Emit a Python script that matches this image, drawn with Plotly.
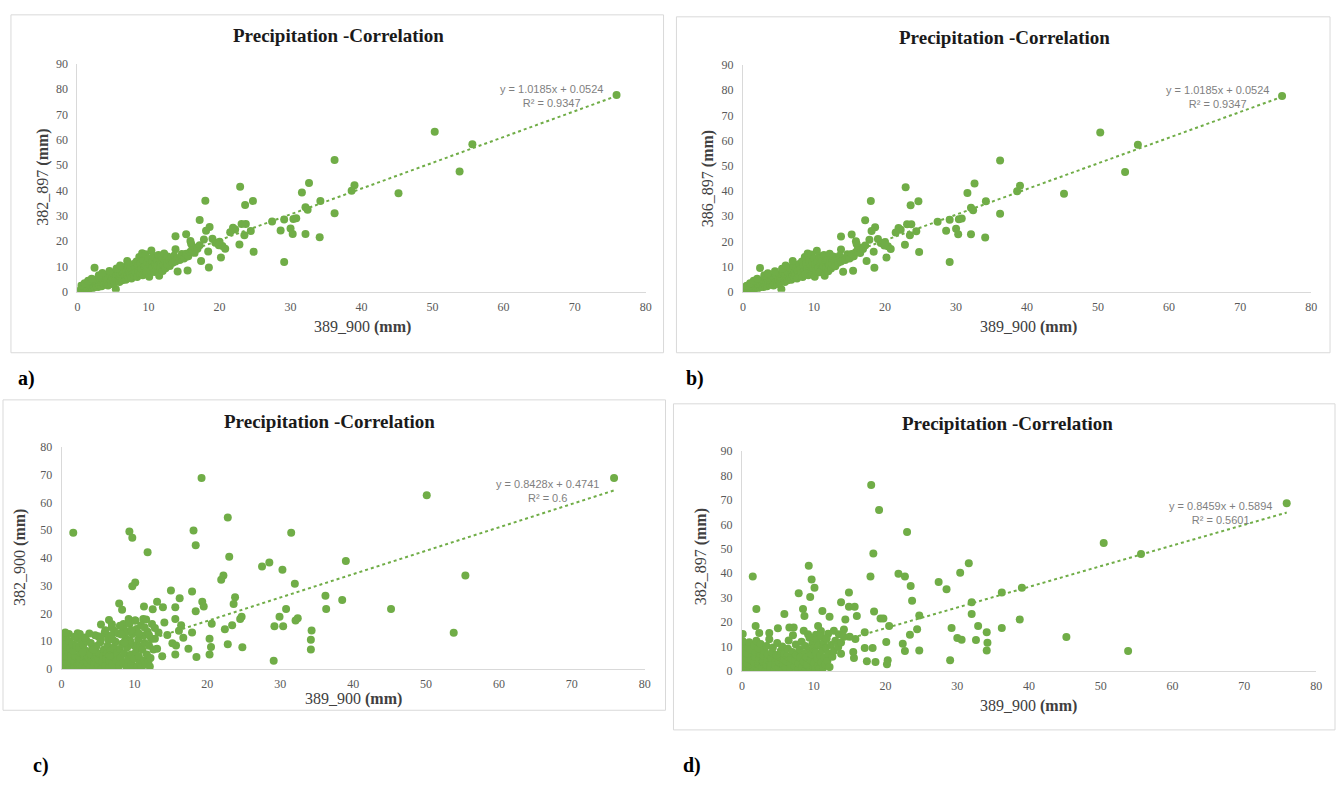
import plotly.graph_objects as go

W, H = 1342, 787

# ---------------- DATA ----------------
# panels a) and b) share the same scatter (389_900 vs 382_897 / 386_897)
ab_points = [
    (75.9, 77.7), (50.3, 63.2), (55.6, 58.3), (53.8, 47.5), (45.2, 38.9), (36.2, 52.1), (36.2, 31.0),
    (39.0, 42.1), (38.6, 39.9), (34.2, 35.9), (34.1, 21.6), (32.6, 43.0), (31.6, 39.2), (32.1, 33.4),
    (32.4, 32.4), (32.1, 22.8), (30.8, 29.1), (30.4, 28.8), (30.0, 25.0), (30.3, 22.8), (29.1, 28.6),
    (28.6, 24.2), (27.4, 27.8), (29.1, 11.8), (24.7, 35.9), (23.6, 34.3), (22.9, 41.5), (23.7, 26.8),
    (23.5, 22.4), (22.8, 18.7), (22.2, 24.6), (24.4, 24.0), (24.8, 15.8), (23.1, 26.8), (21.9, 25.3),
    (20.4, 18.1), (20.2, 13.6), (19.4, 19.4), (19.9, 18.4), (18.0, 36.0), (18.6, 25.6), (18.1, 24.1),
    (17.2, 28.4), (17.8, 20.7), (18.5, 9.6), (17.4, 12.2), (18.4, 15.9), (15.3, 22.7), (13.8, 22.0),
    (15.5, 8.4), (14.1, 8.0), (15.9, 20.1), (16.2, 17.5), (16.8, 17.5), (17.2, 18.4), (14.7, 14.9),
    (13.8, 16.8), (15.4, 14.0), (2.4, 9.5), (5.4, 1.0), (20.8, 17.0), (21.5, 23.5), (19.0, 21.0),
    (16.0, 19.0), (20.0, 19.8),
    (0.1, 0.2), (0.2, 0.1), (0.3, 0.5), (0.4, 0.2), (0.5, 0.8), (0.6, 0.3), (0.7, 1.2), (0.8, 0.5),
    (0.9, 1.6), (1.0, 0.7), (1.1, 1.9), (1.2, 0.9), (1.3, 2.4), (1.4, 1.1), (1.5, 2.8), (1.6, 1.3),
    (1.7, 3.2), (1.8, 1.5), (1.9, 2.2), (2.0, 3.6), (2.1, 1.4), (2.2, 2.8), (2.3, 4.1), (2.4, 1.8),
    (2.5, 3.0), (2.6, 4.5), (2.7, 2.2), (2.8, 3.4), (2.9, 1.9), (3.0, 4.2), (3.1, 2.6), (3.2, 5.0),
    (3.3, 3.1), (3.4, 2.2), (3.5, 4.6), (3.6, 3.3), (3.7, 5.6), (3.8, 2.8), (3.9, 4.0), (4.0, 6.2),
    (4.1, 3.0), (4.2, 4.8), (4.3, 2.5), (4.4, 5.5), (4.5, 3.8), (4.6, 6.8), (4.7, 4.2), (4.8, 3.1),
    (4.9, 5.9), (5.0, 4.6), (5.1, 7.0), (5.2, 3.6), (5.3, 5.2), (5.5, 6.4), (5.6, 4.4), (5.7, 7.6),
    (5.8, 5.0), (5.9, 3.9), (6.0, 6.8), (6.1, 5.4), (6.2, 8.4), (6.3, 4.6), (6.4, 7.2), (6.5, 5.9),
    (6.6, 9.8), (6.7, 6.3), (6.8, 4.8), (6.9, 8.0), (7.0, 6.6), (7.1, 10.2), (7.2, 5.7), (7.3, 7.9),
    (7.4, 6.9), (7.5, 9.4), (7.6, 5.3), (7.7, 8.4), (7.8, 7.1), (7.9, 11.0), (8.0, 6.4), (8.1, 9.0),
    (8.2, 7.6), (8.3, 12.0), (8.4, 5.9), (8.5, 10.3), (8.6, 8.2), (8.7, 13.8), (8.8, 7.0), (8.9, 11.2),
    (9.0, 9.1), (9.1, 15.2), (9.2, 6.6), (9.3, 12.4), (9.4, 8.6), (9.5, 10.0), (9.6, 14.8), (9.7, 7.4),
    (9.8, 11.6), (9.9, 9.4), (10.0, 13.2), (10.1, 6.0), (10.2, 10.8), (10.3, 8.2), (10.4, 16.3),
    (10.5, 12.0), (10.6, 9.6), (10.7, 14.2), (10.8, 7.8), (10.9, 11.1), (11.0, 13.3), (11.1, 8.8),
    (11.2, 12.5), (11.3, 10.2), (11.4, 14.6), (11.5, 6.4), (11.6, 11.7), (11.7, 9.5), (11.8, 13.9),
    (11.9, 12.6), (12.0, 8.2), (12.1, 10.6), (12.2, 15.1), (12.3, 12.2), (12.4, 9.3), (12.5, 13.5),
    (12.6, 11.0), (12.7, 14.0), (12.9, 12.4), (13.0, 10.2), (13.2, 13.4), (13.4, 11.5), (13.6, 14.3),
    (13.8, 12.0), (14.1, 13.1), (14.4, 12.6), (14.7, 14.0), (15.0, 13.2), (15.3, 15.0), (15.6, 14.1),
    (15.9, 15.8), (16.2, 16.4), (16.5, 15.4), (16.9, 17.0), (0.5, 2.4), (1.0, 3.4), (1.5, 4.4),
    (2.0, 5.2), (3.0, 6.6), (3.5, 7.4), (4.5, 8.2), (5.5, 9.2), (6.0, 10.4), (7.0, 12.2),
]

c_points = [
    (75.8, 68.8), (19.2, 68.8), (50.1, 62.6), (1.6, 49.1), (9.3, 49.6), (9.7, 47.3), (18.1, 49.9),
    (18.4, 44.6), (22.8, 54.6), (31.5, 49.1), (11.8, 42.1), (23.0, 40.5), (39.0, 38.9), (28.5, 38.4),
    (27.5, 36.9), (30.3, 35.8), (55.4, 33.7), (22.2, 33.7), (21.9, 32.2), (32.0, 30.7), (10.1, 31.2),
    (9.7, 29.8), (15.0, 28.3), (17.9, 27.9), (23.8, 25.9), (36.2, 26.4), (38.5, 24.9), (23.6, 23.4),
    (36.3, 21.6), (45.2, 21.6), (30.8, 21.6), (19.3, 24.2), (19.5, 22.5), (18.4, 20.8), (16.2, 25.5),
    (15.6, 22.3), (13.1, 24.2), (11.3, 22.5), (12.5, 21.5), (13.9, 22.3), (7.9, 23.6), (8.3, 21.4),
    (29.9, 18.8), (24.7, 18.8), (24.5, 18.0), (32.4, 18.3), (32.1, 17.5), (20.6, 16.3), (23.4, 15.8),
    (22.4, 14.3), (29.2, 15.4), (30.4, 15.4), (34.3, 13.9), (53.8, 13.1), (20.3, 10.9), (20.5, 7.9),
    (20.3, 5.2), (22.8, 8.9), (24.8, 7.8), (34.2, 10.5), (34.2, 7.0), (29.1, 3.0), (18.5, 4.3),
    (17.4, 7.3), (15.6, 5.2), (15.7, 8.5), (15.2, 9.3), (13.8, 4.6), (13.1, 7.3), (13.3, 13.2),
    (14.1, 16.8), (15.6, 18.0), (16.4, 15.8), (16.1, 13.8), (17.9, 13.2), (16.7, 11.3), (14.5, 12.3),
    (12.8, 10.9), (11.2, 18.0), (10.1, 17.5), (9.2, 18.0), (8.5, 16.2), (6.9, 16.1), (5.4, 16.0),
    (6.5, 17.7), (7.2, 13.8), (6.1, 12.6), (2.2, 12.9), (0.1, 11.8), (0.7, 8.5),
    (0.1, 0.3), (0.2, 1.5), (0.3, 3.2), (0.1, 5.0), (0.2, 7.1), (0.4, 9.2), (0.3, 11.5), (0.6, 0.8),
    (0.7, 2.4), (0.8, 4.3), (0.9, 6.2), (0.7, 8.0), (1.0, 10.1), (1.1, 0.2), (1.2, 1.8), (1.3, 3.6),
    (1.4, 5.5), (1.2, 7.4), (1.5, 9.0), (1.7, 0.9), (1.8, 2.7), (1.9, 4.6), (1.6, 6.6), (2.0, 8.3),
    (2.2, 11.0), (2.3, 0.4), (2.4, 2.0), (2.5, 3.9), (2.6, 5.9), (2.4, 7.7), (2.7, 9.8), (2.5, 12.6),
    (2.9, 1.2), (3.0, 3.0), (3.1, 4.9), (3.2, 6.8), (3.0, 8.8), (3.3, 0.3), (3.5, 2.3), (3.6, 4.2),
    (3.7, 6.0), (3.4, 10.3), (3.9, 1.0), (4.0, 3.1), (4.1, 5.2), (4.2, 7.5), (4.0, 9.4), (4.4, 0.5),
    (4.5, 2.2), (4.6, 4.0), (4.7, 6.1), (4.8, 8.3), (5.0, 1.4), (5.1, 3.4), (5.2, 5.6), (5.0, 11.8),
    (5.3, 9.6), (5.5, 0.3), (5.6, 2.5), (5.7, 4.6), (5.8, 7.0), (5.9, 13.0), (6.0, 1.2), (6.1, 3.8),
    (6.2, 5.5), (6.3, 8.4), (6.4, 10.6), (6.5, 0.6), (6.6, 2.9), (6.7, 6.6), (6.8, 12.0), (6.9, 15.0),
    (7.0, 1.8), (7.1, 4.4), (7.2, 7.8), (7.3, 0.4), (7.4, 9.8), (7.5, 3.0), (7.6, 5.8), (7.8, 12.8),
    (7.9, 1.2), (8.0, 7.2), (8.1, 4.1), (8.3, 9.1), (8.4, 2.2), (8.5, 14.3), (8.6, 5.6), (8.8, 11.0),
    (8.9, 0.8), (9.0, 7.8), (9.1, 3.4), (9.3, 16.2), (9.4, 10.2), (9.5, 5.2), (9.6, 1.6), (9.7, 12.6),
    (9.8, 0.4), (9.9, 8.6), (10.0, 3.8), (10.1, 17.5), (10.2, 6.2), (10.3, 14.4), (10.4, 1.0),
    (10.5, 10.6), (10.6, 4.6), (10.7, 2.2), (10.8, 8.0), (10.9, 15.8), (11.0, 0.8), (11.1, 6.9),
    (11.2, 12.0), (11.3, 3.0), (11.4, 9.4), (11.5, 1.6), (11.6, 17.8), (11.7, 5.2), (11.8, 13.4),
    (11.9, 2.6), (12.0, 8.4), (12.1, 0.9), (12.2, 4.0), (12.3, 10.8), (12.4, 16.2), (12.6, 7.0),
    (12.8, 14.8), (1.0, 12.6), (3.2, 11.4), (4.6, 12.2), (6.0, 14.0), (8.0, 15.6), (9.0, 13.4),
    (0.5, 13.2), (1.8, 11.6), (3.8, 12.8), (5.4, 10.8), (7.0, 10.6), (8.2, 12.4), (9.6, 14.0),
    (10.6, 12.8), (11.4, 15.0), (12.0, 12.2), (2.9, 6.0), (4.4, 7.0), (6.6, 4.8), (8.6, 9.6),
]

d_points = [
    (75.9, 68.6), (18.0, 76.1), (19.1, 65.9), (23.0, 56.9), (50.4, 52.4), (55.6, 47.9), (18.3, 48.1),
    (9.3, 43.0), (31.6, 44.1), (30.4, 40.2), (1.5, 38.6), (21.8, 39.8), (22.7, 38.6), (17.9, 38.6),
    (9.7, 37.4), (27.4, 36.4), (10.1, 34.0), (23.5, 34.8), (28.5, 33.4), (39.0, 34.0), (36.2, 32.1),
    (14.9, 32.1), (7.9, 31.8), (9.5, 30.3), (23.7, 28.7), (32.0, 28.1), (13.8, 28.1), (2.0, 25.4),
    (14.9, 26.3), (15.7, 26.3), (8.5, 25.4), (18.4, 24.3), (5.9, 23.3), (24.7, 22.7), (32.0, 23.3),
    (19.3, 21.5), (19.7, 21.5), (11.2, 24.5), (12.2, 22.2), (8.7, 22.5), (38.7, 21.1), (16.0, 22.5),
    (14.4, 21.1), (10.6, 18.4), (20.5, 18.4), (32.9, 18.4), (29.2, 17.6), (24.4, 17.1), (36.2, 17.6),
    (34.1, 15.8), (23.4, 14.8), (17.1, 15.8), (15.8, 13.1), (45.2, 13.9), (30.0, 13.5), (30.6, 12.8),
    (32.6, 12.7), (34.2, 11.5), (20.1, 11.9), (22.4, 11.1), (17.1, 9.4), (18.2, 9.4), (24.7, 8.4),
    (22.7, 8.2), (34.1, 8.4), (53.8, 8.2), (29.0, 4.4), (17.4, 4.0), (18.6, 3.7), (20.3, 4.4),
    (20.2, 2.7), (15.6, 5.3), (15.5, 7.8), (13.8, 7.0),
    (0.1, 15.1), (1.9, 18.4), (2.4, 15.5), (3.8, 15.5), (5.0, 17.5), (6.6, 17.8), (7.2, 17.8),
    (8.6, 16.5), (9.2, 15.0), (10.3, 14.8), (11.0, 16.4), (12.0, 15.2), (12.8, 16.5), (13.5, 15.0),
    (14.2, 17.0), (15.0, 14.0),
    (0.1, 0.4), (0.2, 2.1), (0.1, 4.0), (0.3, 6.2), (0.2, 8.3), (0.4, 10.5), (0.1, 12.2), (0.6, 1.0),
    (0.7, 3.1), (0.8, 5.2), (0.6, 7.3), (0.9, 9.4), (1.0, 11.8), (1.1, 0.3), (1.2, 2.5), (1.3, 4.4),
    (1.4, 6.6), (1.2, 8.8), (1.6, 1.4), (1.7, 3.6), (1.8, 5.8), (1.9, 7.8), (1.7, 10.4), (2.0, 12.4),
    (2.2, 0.6), (2.3, 2.8), (2.4, 4.9), (2.5, 7.0), (2.3, 9.2), (2.6, 11.0), (2.8, 1.6), (2.9, 3.9),
    (3.0, 6.1), (3.1, 8.4), (3.3, 0.4), (3.4, 2.5), (3.5, 4.6), (3.6, 6.8), (3.4, 10.2), (3.8, 13.0),
    (3.9, 1.2), (4.0, 3.3), (4.1, 5.4), (4.2, 7.6), (4.3, 9.6), (4.5, 0.5), (4.6, 2.4), (4.7, 4.5),
    (4.8, 6.5), (4.9, 11.4), (5.1, 1.5), (5.2, 3.6), (5.3, 5.7), (5.4, 8.2), (5.6, 0.3), (5.7, 2.7),
    (5.8, 4.8), (5.9, 7.0), (5.6, 10.0), (6.1, 1.2), (6.2, 3.9), (6.3, 6.0), (6.4, 9.1), (6.5, 12.5),
    (6.7, 0.6), (6.8, 2.9), (6.9, 5.2), (7.0, 7.8), (7.1, 14.6), (7.3, 1.8), (7.4, 4.3), (7.5, 10.8),
    (7.6, 6.5), (7.8, 0.4), (7.9, 3.1), (8.0, 8.8), (8.1, 5.5), (8.3, 12.0), (8.4, 1.5), (8.5, 7.2),
    (8.6, 3.8), (8.8, 10.2), (8.9, 0.8), (9.0, 5.6), (9.1, 2.3), (9.3, 8.5), (9.4, 13.6), (9.5, 0.4),
    (9.6, 4.5), (9.7, 6.8), (9.8, 11.0), (9.9, 1.8), (10.0, 9.2), (10.1, 3.3), (10.2, 0.6), (10.3, 7.5),
    (10.4, 12.8), (10.5, 5.0), (10.6, 2.0), (10.7, 10.4), (10.8, 0.9), (10.9, 6.3), (11.0, 14.2),
    (11.1, 3.6), (11.2, 8.6), (11.3, 1.3), (11.4, 11.8), (11.5, 5.4), (11.6, 2.6), (11.7, 9.5),
    (11.8, 13.3), (11.9, 4.2), (12.0, 7.0), (12.2, 1.6), (12.4, 10.6), (12.6, 5.8), (12.8, 8.2),
    (13.0, 12.4), (13.4, 9.8), (13.8, 11.6), (14.2, 14.0),
]

panel_titles = ["Precipitation -Correlation"] * 4
x_titles = ["389_900", "389_900", "389_900", "389_900"]
y_titles = ["382_897", "386_897", "382_900", "382_897"]
slopes = [1.0185, 1.0185, 0.8428, 0.8459]
intercepts = [0.0524, 0.0524, 0.4741, 0.5894]
eq_texts = ["y = 1.0185x + 0.0524<br>R² = 0.9347",
            "y = 1.0185x + 0.0524<br>R² = 0.9347",
            "y = 0.8428x + 0.4741<br>R² = 0.6",
            "y = 0.8459x + 0.5894<br>R² = 0.5601"]
y_max = [90, 90, 80, 90]
x_ticks = [0, 10, 20, 30, 40, 50, 60, 70, 80]
panel_labels = ["a)", "b)", "c)", "d)"]
datasets = [ab_points, ab_points, c_points, d_points]

# ---------------- LAYOUT (pixel geometry) ----------------
# plot area: (x0px, x80px, ytop_px, y0px)
areas = [(75, 647, 58, 290), (745, 1317, 59, 290), (59, 646, 448, 674), (744, 1322, 452, 676)]
boxes = [(8, 8, 665, 352), (678, 10, 1336, 352), (0, 400, 667, 716), (675, 404, 1341, 736)]
title_pos = [(338, 29), (1008, 31), (329, 422), (1011, 424)]
xt_pos = [(362, 326), (1032, 326), (353, 705), (1032, 712)]
yt_pos = [(40, 173), (710, 175), (17, 560), (703, 560)]
eq_pos = [(552, 91), (1223, 92), (548, 493), (1226, 515)]
lab_pos = [(24, 378), (697, 378), (38, 772), (694, 772)]

GREEN = "#70AD47"
SERIF = "Liberation Serif, Times New Roman, serif"

fig = go.Figure()
annotations = []
shapes = []
layout = dict(width=W, height=H, margin=dict(l=0, r=0, t=0, b=0),
              paper_bgcolor="white", plot_bgcolor="white", showlegend=False)

for i in range(4):
    sx = "" if i == 0 else str(i + 1)
    xs = [p[0] for p in datasets[i]]
    ys = [p[1] for p in datasets[i]]
    fig.add_trace(go.Scatter(x=xs, y=ys, mode="markers", xaxis="x" + sx, yaxis="y" + sx,
                             marker=dict(color=GREEN, size=8, line=dict(width=0)),
                             hoverinfo="skip"))
    x0, x1 = min(xs), max(xs)
    fig.add_trace(go.Scatter(x=[x0, x1],
                             y=[slopes[i] * x0 + intercepts[i], slopes[i] * x1 + intercepts[i]],
                             mode="lines", xaxis="x" + sx, yaxis="y" + sx,
                             line=dict(color=GREEN, width=2, dash="dot"), hoverinfo="skip"))
    ax0, ax1, ayt, ay0 = areas[i]
    axis_common = dict(showgrid=False, zeroline=False, showline=True, linecolor="#d9d9d9",
                       linewidth=1, ticks="", tickfont=dict(family=SERIF, size=12, color="#595959"),
                       fixedrange=True)
    layout["xaxis" + sx] = dict(axis_common, domain=[ax0 / W, ax1 / W], range=[0, 80],
                                tickvals=x_ticks, anchor="y" + sx, ticklabelstandoff=4)
    layout["yaxis" + sx] = dict(axis_common, domain=[1 - ay0 / H, 1 - ayt / H],
                                range=[0, y_max[i]], dtick=10, anchor="x" + sx,
                                ticklabelstandoff=6)
    bx0, by0, bx1, by1 = boxes[i]
    shapes.append(dict(type="rect", xref="paper", yref="paper", x0=bx0 / W, x1=bx1 / W,
                       y0=1 - by1 / H, y1=1 - by0 / H, line=dict(color="#d9d9d9", width=1),
                       layer="below"))
    tx, ty = title_pos[i]
    annotations.append(dict(text="<b>" + panel_titles[i] + "</b>", x=tx / W, y=1 - ty / H,
                            xref="paper", yref="paper", showarrow=False,
                            font=dict(family=SERIF, size=19, color="#1a1a1a"),
                            xanchor="center", yanchor="middle"))
    xx, xy = xt_pos[i]
    annotations.append(dict(text=x_titles[i] + " <b>(mm)</b>", x=xx / W, y=1 - xy / H,
                            xref="paper", yref="paper", showarrow=False,
                            font=dict(family=SERIF, size=16, color="#404040"),
                            xanchor="center", yanchor="middle"))
    yx, yy = yt_pos[i]
    annotations.append(dict(text=y_titles[i] + " <b>(mm)</b>", x=yx / W, y=1 - yy / H,
                            xref="paper", yref="paper", showarrow=False, textangle=-90,
                            font=dict(family=SERIF, size=16, color="#404040"),
                            xanchor="center", yanchor="middle"))
    ex, ey = eq_pos[i]
    annotations.append(dict(text=eq_texts[i], x=ex / W, y=1 - ey / H, xref="paper", yref="paper",
                            showarrow=False, align="center",
                            font=dict(family="Liberation Sans Narrow, Liberation Sans, sans-serif",
                                      size=11, color="#7f7f7f"),
                            xanchor="center", yanchor="middle"))
    lx, ly = lab_pos[i]
    annotations.append(dict(text="<b>" + panel_labels[i] + "</b>", x=lx / W, y=1 - ly / H,
                            xref="paper", yref="paper", showarrow=False,
                            font=dict(family=SERIF, size=20, color="black"),
                            xanchor="center", yanchor="middle"))

layout["annotations"] = annotations
layout["shapes"] = shapes
fig.update_layout(**layout)
fig.write_html("out.html", config={"displayModeBar": False},
               post_script="document.body.style.margin='0';document.body.style.overflow='hidden';")
